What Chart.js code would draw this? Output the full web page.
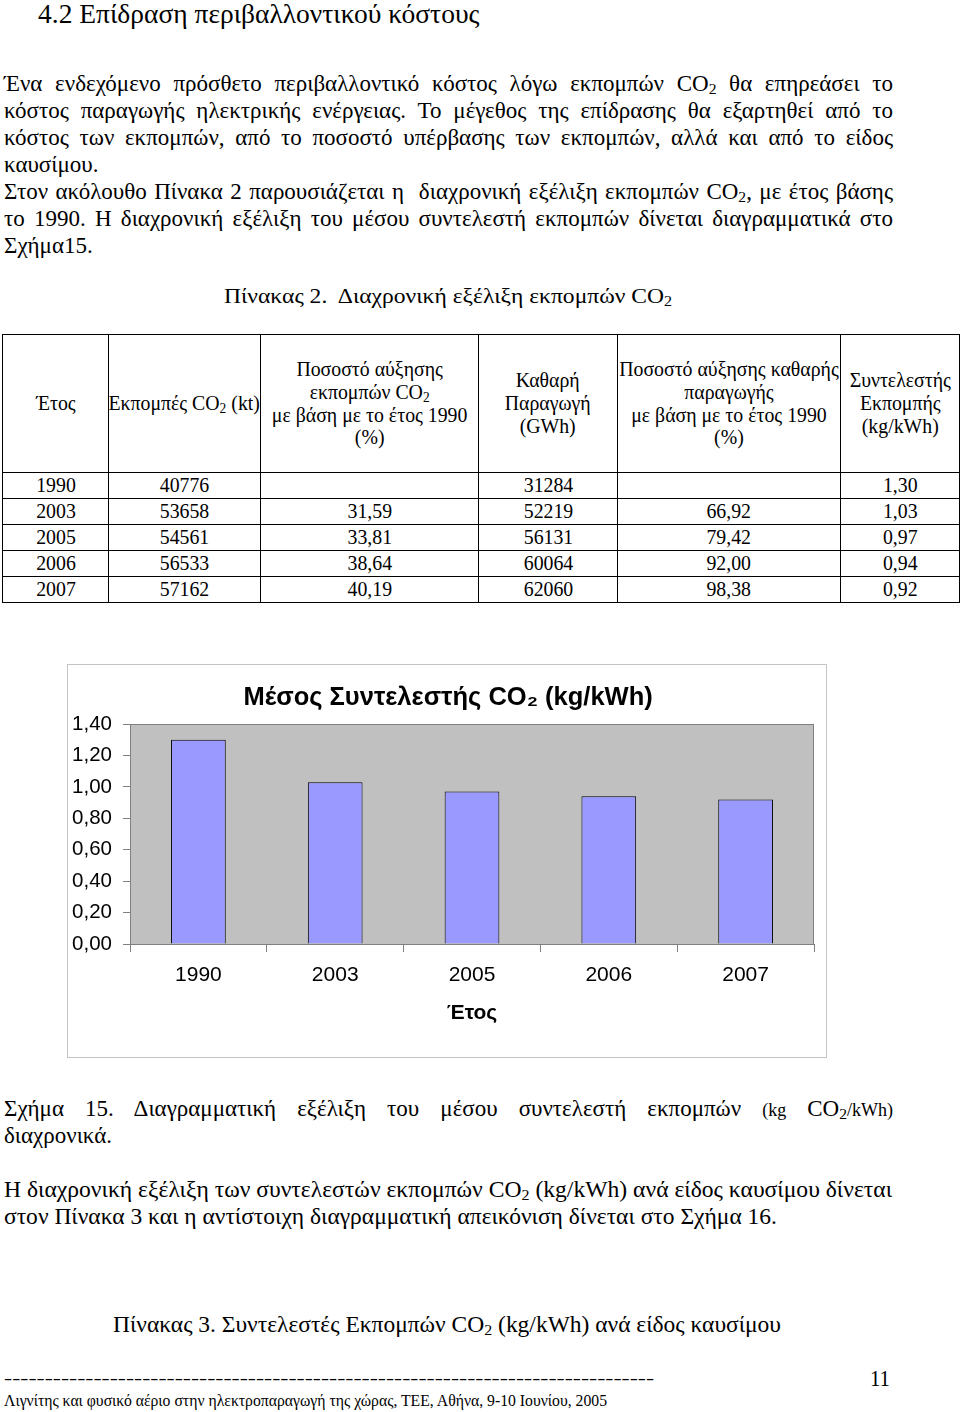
<!DOCTYPE html>
<html>
<head>
<meta charset="utf-8">
<script src="https://cdn.jsdelivr.net/npm/chart.js@4"></script>
<style>
body { margin: 0; background: #fff; width: 960px; height: 1412px; position: relative; overflow: hidden;
       font-family: "Liberation Serif", "Times New Roman", serif; color: #000; }
.t { position: absolute; white-space: nowrap; line-height: 27px; font-size: 23px; }
.just { text-align: justify; text-align-last: justify; }
sub { font-size: 0.68em; vertical-align: -0.22em; line-height: 0; }
#tbl { position: absolute; left: 2px; top: 334px; width: 957px; border-collapse: collapse; table-layout: fixed; font-size: 22px; }
#tbl td { border: 1px solid #000; text-align: center; vertical-align: middle; padding: 0; line-height: 22.7px; overflow: visible; }
#tbl td span { display: inline-block; transform: scaleX(0.9); white-space: nowrap; margin: 0 -40px; }
#box { position: absolute; left: 67px; top: 664px; width: 760px; height: 394px; border: 1px solid #c4c4c4; box-sizing: border-box; }
#box canvas { display: block; }
</style>
</head>
<body>

<div class="t" style="left:38px; top:-1px; font-size:27.5px; line-height:30px;">4.2 Επίδραση περιβαλλοντικού κόστους</div>

<div class="t just" style="left:4px; top:69.5px; width:889px;">Ένα ενδεχόμενο πρόσθετο περιβαλλοντικό κόστος λόγω εκπομπών CO<sub>2</sub> θα επηρεάσει το</div>
<div class="t just" style="left:4px; top:96.5px; width:889px;">κόστος παραγωγής ηλεκτρικής ενέργειας. Το μέγεθος της επίδρασης θα εξαρτηθεί από το</div>
<div class="t just" style="left:4px; top:123.5px; width:889px;">κόστος των εκπομπών, από το ποσοστό υπέρβασης των εκπομπών, αλλά και από το είδος</div>
<div class="t" style="left:4px; top:150.5px;">καυσίμου.</div>
<div class="t just" style="left:4px; top:177.5px; width:889px;">Στον ακόλουθο Πίνακα 2 παρουσιάζεται η&nbsp; διαχρονική εξέλιξη εκπομπών CO<sub>2</sub>, με έτος βάσης</div>
<div class="t just" style="left:4px; top:204.5px; width:889px;">το 1990. Η διαχρονική εξέλιξη του μέσου συντελεστή εκπομπών δίνεται διαγραμματικά στο</div>
<div class="t" style="left:4px; top:231.5px;">Σχήμα15.</div>

<div class="t fit" data-w="448" style="left:224px; top:281.5px; font-size:22px;">Πίνακας 2.&nbsp; Διαχρονική εξέλιξη εκπομπών CO<sub>2</sub></div>

<table id="tbl"></table>

<div id="box"><canvas id="myChart" width="758" height="392"></canvas></div>

<div class="t just" style="left:4px; top:1094.5px; width:889px;">Σχήμα 15. Διαγραμματική εξέλιξη του μέσου συντελεστή εκπομπών <span style="font-size:18px">(kg</span> CO<sub>2</sub><span style="font-size:18px">/kWh)</span></div>
<div class="t" style="left:4px; top:1121.5px;">διαχρονικά.</div>

<div class="t fit" data-w="888" style="left:4px; top:1175.5px;">Η διαχρονική εξέλιξη των συντελεστών εκπομπών CO<sub>2</sub> (kg/kWh) ανά είδος καυσίμου δίνεται</div>
<div class="t fit" data-w="773" style="left:4px; top:1202.5px;">στον Πίνακα 3 και η αντίστοιχη διαγραμματική απεικόνιση δίνεται στο Σχήμα 16.</div>

<div class="t fit" data-w="668" style="left:113px; top:1310.5px;">Πίνακας 3. Συντελεστές Εκπομπών CO<sub>2</sub> (kg/kWh) ανά είδος καυσίμου</div>

<div class="t fit" data-w="650" style="left:4px; top:1364.5px; font-size:16px;">--------------------------------------------------------------------------------</div>
<div class="t fit" data-w="20" style="left:870px; top:1364.5px; font-size:23px;">11</div>
<div class="t fit" data-w="603" style="left:4px; top:1386.5px; font-size:17px;">Λιγνίτης και φυσικό αέριο στην ηλεκτροπαραγωγή της χώρας, ΤΕΕ, Αθήνα, 9-10 Ιουνίου, 2005</div>

<script>
// Πίνακας 2 data
var years = ['1990', '2003', '2005', '2006', '2007'];
var emissions = ['40776', '53658', '54561', '56533', '57162'];
var emissionsPct = ['', '31,59', '33,81', '38,64', '40,19'];
var production = ['31284', '52219', '56131', '60064', '62060'];
var productionPct = ['', '66,92', '79,42', '92,00', '98,38'];
var emissionFactor = [1.30, 1.03, 0.97, 0.94, 0.92];
var yTicks = [0, 0.2, 0.4, 0.6, 0.8, 1.0, 1.2, 1.4];

function fmt(v) { return v.toFixed(2).replace('.', ','); }

// build table
var tbl = document.getElementById('tbl');
var colW = [106, 152, 218, 139, 223, 119];
var cg = '<colgroup>' + colW.map(function (w) { return '<col style="width:' + w + 'px">'; }).join('') + '</colgroup>';
var head = ['Έτος', 'Εκπομπές CO<sub>2</sub> (kt)',
    'Ποσοστό αύξησης<br>εκπομπών CO<sub>2</sub><br>με βάση με το έτος 1990<br>(%)',
    'Καθαρή<br>Παραγωγή<br>(GWh)',
    'Ποσοστό αύξησης καθαρής<br>παραγωγής<br>με βάση με το έτος 1990<br>(%)',
    'Συντελεστής<br>Εκπομπής<br>(kg/kWh)'];
var html = cg + '<tr style="height:138px">' + head.map(function (h) { return '<td><span>' + h + '</span></td>'; }).join('') + '</tr>';
for (var i = 0; i < years.length; i++) {
    var row = [years[i], emissions[i], emissionsPct[i], production[i], productionPct[i], fmt(emissionFactor[i])];
    html += '<tr style="height:26px">' + row.map(function (c) { return '<td><span>' + c + '</span></td>'; }).join('') + '</tr>';
}
tbl.innerHTML = html;

// squeeze condensed lines to their width
document.querySelectorAll('.fit').forEach(function (el) {
    var w = el.getBoundingClientRect().width;
    var target = parseFloat(el.getAttribute('data-w'));
    el.style.transformOrigin = '0 50%';
    el.style.transform = 'scaleX(' + (target / w) + ')';
});

var plotBg = {
    id: 'plotBg',
    beforeDraw: function (chart) {
        var a = chart.chartArea, c = chart.ctx;
        c.save();
        c.fillStyle = '#c0c0c0';
        c.fillRect(a.left, a.top, a.right - a.left, a.bottom - a.top);
        c.strokeStyle = '#808080';
        c.lineWidth = 1;
        c.strokeRect(a.left + 0.5, a.top + 0.5, a.right - a.left - 1, a.bottom - a.top);
        c.restore();
    }
};

var ctx = document.getElementById('myChart').getContext('2d');
var myChart = new Chart(ctx, {
    type: 'bar',
    data: {
        labels: years,
        datasets: [{
            data: emissionFactor,
            backgroundColor: '#9999ff',
            borderColor: '#000000',
            borderWidth: 1,
            barPercentage: 0.4,
            categoryPercentage: 1
        }]
    },
    options: {
        responsive: false,
        animation: false,
        layout: { padding: { left: 0, right: 12, top: 0, bottom: 0 } },
        plugins: {
            legend: { display: false },
            tooltip: { enabled: false },
            title: {
                display: true,
                // leading spaces push the centred title back to the middle of the box
                text: '  Μέσος Συντελεστής CO₂ (kg/kWh)',
                color: '#000',
                font: { family: 'Liberation Sans, Arial', size: 25.5, weight: 'bold', lineHeight: 1.13 },
                padding: { top: 19, bottom: 11.2 }
            }
        },
        scales: {
            x: {
                afterFit: function (s) { s.height = 113; },
                grid: { offset: true, drawOnChartArea: false, tickLength: 8, color: '#808080' },
                border: { color: '#808080' },
                ticks: { color: '#000', padding: 11, font: { family: 'Liberation Sans, Arial', size: 21, lineHeight: 1.14 } },
                title: {
                    display: true, text: 'Έτος', color: '#000',
                    font: { family: 'Liberation Sans, Arial', size: 21, weight: 'bold', lineHeight: 1.14 },
                    padding: { top: 0, bottom: 32 }
                }
            },
            y: {
                min: 0,
                max: 1.4,
                afterFit: function (s) { s.width = 62; },
                afterBuildTicks: function (s) { s.ticks = yTicks.map(function (v) { return { value: v }; }); },
                grid: { drawOnChartArea: false, tickLength: 7, color: '#808080' },
                border: { color: '#808080' },
                ticks: {
                    color: '#000', padding: 11,
                    font: { family: 'Liberation Sans, Arial', size: 20.5 },
                    callback: function (v) { return fmt(v); }
                }
            }
        }
    },
    plugins: [plotBg]
});
</script>
</body>
</html>
